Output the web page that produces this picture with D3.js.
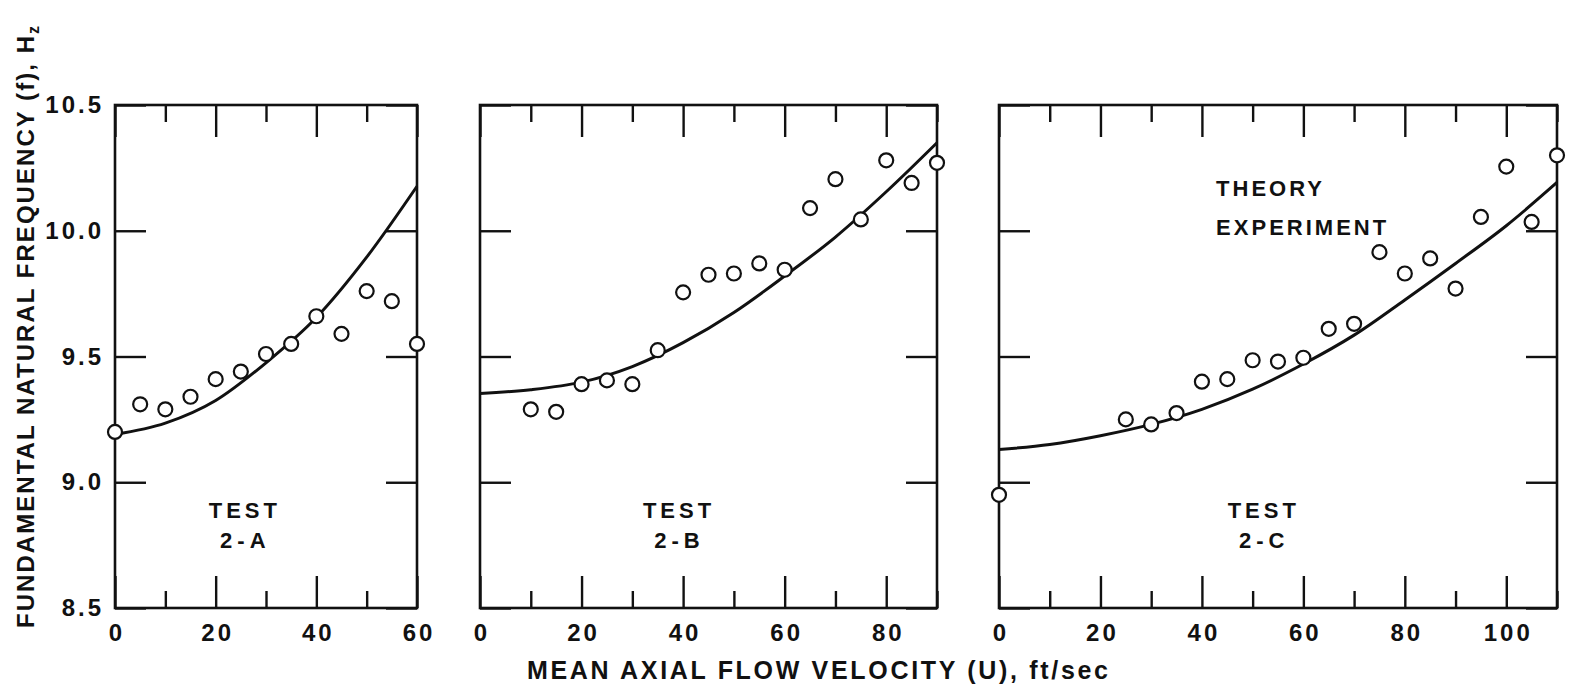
<!DOCTYPE html>
<html>
  <head>
    <script src="https://d3js.org/d3.v7.min.js"></script>
    <style>
      body { margin: 0; background: #fff; }
      text { font-family: "Liberation Sans", Arial, sans-serif; font-weight: bold; fill: #111; }
    </style>
  </head>
  <body>
    <div id="graph"></div>
  <script>

    // panels
    var panelIds = ["2-A", "2-B", "2-C"];
    var panelUMax = [60, 90, 110];

    // y ticks (shared)
    var yTicks = [8.5, 9.0, 9.5, 10.0, 10.5];
    var yTickLabels = ["8.5", "9.0", "9.5", "10.0", "10.5"];

    // x tick labels per panel
    var xLabelsA = [0, 20, 40, 60];
    var xLabelsB = [0, 20, 40, 60, 80];
    var xLabelsC = [0, 20, 40, 60, 80, 100];

    // experiment points
    var expA_U = [0, 5, 10, 15, 20, 25, 30, 35, 40, 45, 50, 55, 60];
    var expA_F = [9.20, 9.31, 9.29, 9.34, 9.41, 9.44, 9.51, 9.55, 9.66, 9.59, 9.76, 9.72, 9.55];

    var expB_U = [10, 15, 20, 25, 30, 35, 40, 45, 50, 55, 60, 65, 70, 75, 80, 85, 90];
    var expB_F = [9.29, 9.28, 9.39, 9.405, 9.39, 9.525, 9.755, 9.825, 9.83, 9.87, 9.845, 10.09, 10.205, 10.045, 10.28, 10.19, 10.27];

    var expC_U = [0, 25, 30, 35, 40, 45, 50, 55, 60, 65, 70, 75, 80, 85, 90, 95, 100, 105, 110];
    var expC_F = [8.95, 9.25, 9.23, 9.275, 9.40, 9.41, 9.485, 9.48, 9.495, 9.61, 9.63, 9.915, 9.83, 9.89, 9.77, 10.055, 10.255, 10.035, 10.30];

    // theory curves
    var theoryA_U = [0, 10, 20, 30, 40, 50, 60];
    var theoryA_F = [9.19, 9.235, 9.325, 9.475, 9.655, 9.895, 10.177];

    var theoryB_U = [0, 10, 20, 30, 40, 50, 60, 70, 80, 90];
    var theoryB_F = [9.353, 9.368, 9.398, 9.46, 9.555, 9.675, 9.82, 9.975, 10.155, 10.35];

    var theoryC_U = [0, 10, 20, 30, 40, 50, 60, 70, 80, 90, 100, 110];
    var theoryC_F = [9.13, 9.15, 9.185, 9.23, 9.29, 9.37, 9.47, 9.585, 9.725, 9.87, 10.02, 10.192];

    var zip = (us, fs) => us.map((u, i) => ({u: u, f: fs[i]}));

    var panels = [
      {id: panelIds[0], uMax: panelUMax[0], labels: xLabelsA, exp: zip(expA_U, expA_F), theory: zip(theoryA_U, theoryA_F), left: 115, right: 417, testU: 25.4},
      {id: panelIds[1], uMax: panelUMax[1], labels: xLabelsB, exp: zip(expB_U, expB_F), theory: zip(theoryB_U, theoryB_F), left: 480, right: 937, testU: 38.8},
      {id: panelIds[2], uMax: panelUMax[2], labels: xLabelsC, exp: zip(expC_U, expC_F), theory: zip(theoryC_U, theoryC_F), left: 999, right: 1557, testU: 51.8}
    ];

    var width = 1570, height = 689;
    var plotTop = 105, plotBottom = 608;

    var svg = d3.select("#graph")
                .append("svg")
                  .attr("width", width)
                  .attr("height", height);

    var yScale = d3.scaleLinear().domain([8.5, 10.5]).range([plotBottom, plotTop]);

    panels.forEach(function(p, idx) {
      var xScale = d3.scaleLinear().domain([0, p.uMax]).range([p.left, p.right]);
      var g = svg.append("g");

      var minor = d3.range(10, p.uMax + 1, 20);
      var major = d3.range(0, p.uMax + 1, 20);

      // bottom ticks
      g.append("g")
        .attr("transform", "translate(0," + plotBottom + ")")
        .call(d3.axisBottom(xScale).tickValues(minor).tickSize(-17).tickFormat(""));
      g.append("g")
        .attr("class", "xlab")
        .attr("transform", "translate(0," + plotBottom + ")")
        .call(d3.axisBottom(xScale).tickValues(major).tickSize(-32).tickPadding(16)
              .tickFormat(d => p.labels.indexOf(d) >= 0 ? d : ""));

      // top ticks
      g.append("g")
        .attr("transform", "translate(0," + plotTop + ")")
        .call(d3.axisTop(xScale).tickValues(minor).tickSize(-17).tickFormat(""));
      g.append("g")
        .attr("transform", "translate(0," + plotTop + ")")
        .call(d3.axisTop(xScale).tickValues(major).tickSize(-32).tickFormat(""));

      // left / right ticks
      g.append("g")
        .attr("class", "ylab")
        .attr("transform", "translate(" + p.left + ",0)")
        .call(d3.axisLeft(yScale).tickValues(yTicks).tickSize(-31).tickPadding(11)
              .tickFormat((d, i) => idx === 0 ? yTickLabels[i] : ""));
      g.append("g")
        .attr("transform", "translate(" + p.right + ",0)")
        .call(d3.axisRight(yScale).tickValues(yTicks).tickSize(-31).tickFormat(""));

      g.selectAll(".domain").remove();
      g.selectAll(".tick line").attr("stroke", "#111").attr("stroke-width", 2.4);
      g.selectAll(".tick text")
        .style("font-size", "24px")
        .style("letter-spacing", "3px")
        .attr("fill", "#111");
      g.selectAll(".xlab .tick text").attr("dx", "1.5px");

      // frame
      g.append("rect")
        .attr("x", p.left).attr("y", plotTop)
        .attr("width", p.right - p.left).attr("height", plotBottom - plotTop)
        .attr("fill", "none")
        .attr("stroke", "#111")
        .attr("stroke-width", 2.6);

      // theory curve
      g.append("path")
        .datum(p.theory)
        .attr("fill", "none")
        .attr("stroke", "#111")
        .attr("stroke-width", 3)
        .attr("d", d3.line()
          .curve(d3.curveMonotoneX)
          .x(d => xScale(d.u))
          .y(d => yScale(d.f)));

      // experiment points
      g.selectAll(".pt")
        .data(p.exp)
        .enter().append("circle")
          .attr("cx", d => xScale(d.u))
          .attr("cy", d => yScale(d.f))
          .attr("r", 7)
          .attr("fill", "#fff")
          .attr("stroke", "#111")
          .attr("stroke-width", 2.2);

      // test label
      g.append("text")
        .attr("x", xScale(p.testU))
        .attr("y", yScale(8.858))
        .attr("text-anchor", "middle")
        .attr("dx", "2px")
        .style("font-size", "22px")
        .style("letter-spacing", "4px")
        .text("TEST");
      g.append("text")
        .attr("x", xScale(p.testU))
        .attr("y", yScale(8.74))
        .attr("text-anchor", "middle")
        .attr("dx", "2.5px")
        .style("font-size", "22px")
        .style("letter-spacing", "5px")
        .text(p.id);

      if (idx === 2) {
        g.append("text")
          .attr("x", xScale(42.8))
          .attr("y", yScale(10.14))
          .style("font-size", "22px")
          .style("letter-spacing", "3px")
          .text("THEORY");
        g.append("text")
          .attr("x", xScale(42.8))
          .attr("y", yScale(9.982))
          .style("font-size", "22px")
          .style("letter-spacing", "3px")
          .text("EXPERIMENT");
      }
    });

    // axis titles
    svg.append("text")
      .attr("x", 527)
      .attr("y", 679)
      .attr("textLength", 581)
      .attr("lengthAdjust", "spacing")
      .style("font-size", "25px")
      .text("MEAN AXIAL FLOW VELOCITY (U), ft/sec");

    var yTitle = svg.append("text")
      .attr("transform", "translate(34,628) rotate(-90)")
      .attr("x", 0)
      .attr("y", 0)
      .style("font-size", "24px");
    yTitle.append("tspan")
      .attr("textLength", 592)
      .attr("lengthAdjust", "spacing")
      .text("FUNDAMENTAL NATURAL FREQUENCY (f), H");
    yTitle.append("tspan")
      .attr("dy", 5)
      .style("font-size", "16px")
      .text("z");

  </script>
  </body>
</html>
